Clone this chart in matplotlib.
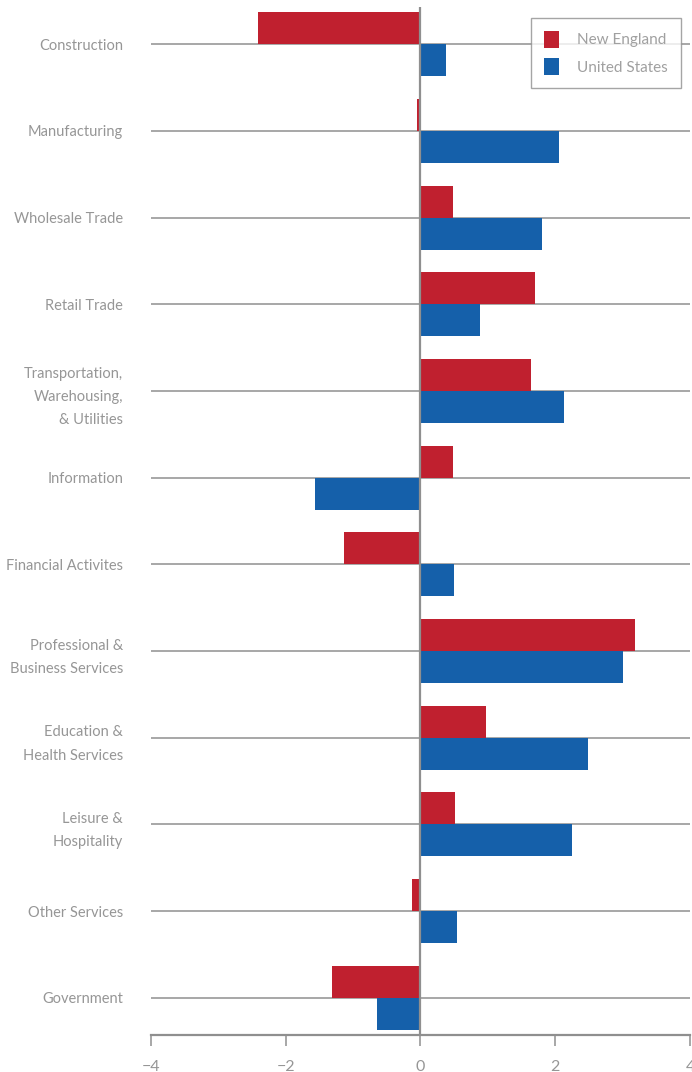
import numpy as np
import matplotlib.pyplot as plt

# Data
categories = ['Construction', 'Manufacturing', 'Wholesale Trade', 'Retail Trade',
              'Transportation,\nWarehousing,\n& Utilities', 'Information',
              'Financial Activites', 'Professional &\nBusiness Services',
              'Education &\nHealth Services', 'Leisure &\nHospitality',
              'Other Services', 'Government']
new_england = [-2.41, -0.05, 0.48, 1.70, 1.64, 0.48, -1.14, 3.18, 0.97, 0.51, -0.13, -1.31]
united_states = [0.38, 2.05, 1.80, 0.88, 2.13, -1.57, 0.50, 3.00, 2.49, 2.25, 0.54, -0.65]
xticks = [-4, -2, 0, 2, 4]

red = '#C0202F'
blue = '#1560AA'
gray = '#8f8f8f'
text_gray = '#969696'

plt.rcParams['font.family'] = ['Lato', 'DejaVu Sans']

fig = plt.figure(figsize=(6.92, 10.72), dpi=100)
ax = fig.add_axes([0.2182, 0.0345, 0.9971 - 0.2182, 0.9935 - 0.0345])

y = np.arange(len(categories))
h = 0.37
ax.barh(y - h / 2, new_england, height=h, color=red, label='New England', zorder=3)
ax.barh(y + h / 2, united_states, height=h, color=blue, label='United States', zorder=3)

# horizontal rules at each category
for yy in y:
    ax.axhline(yy, color=gray, lw=1.1, zorder=1)
ax.axvline(0, color=gray, lw=1.6, zorder=4)

ax.set_xlim(-4, 4)
ax.set_ylim(len(categories) - 1 + 0.43, -0.43)

ax.set_yticks(y)
ax.set_yticklabels(categories, fontsize=10.5, color=text_gray,
                   linespacing=1.85, ha='right')
ax.tick_params(axis='y', length=0, pad=20)

ax.set_xticks(xticks)
ax.set_xticklabels([f'\u2212{abs(t)}' if t < 0 else str(t) for t in xticks],
                   fontsize=11.5, color=text_gray)
ax.tick_params(axis='x', length=8, width=1.1, color=gray, pad=10, direction='out')

for s in ['top', 'right', 'left']:
    ax.spines[s].set_visible(False)
ax.spines['bottom'].set_color(gray)
ax.spines['bottom'].set_linewidth(1.6)

leg = ax.legend(loc='upper right', bbox_to_anchor=(0.9833, 0.9893), frameon=True,
                fancybox=False, edgecolor=gray, fontsize=11, handlelength=1.0,
                handleheight=1.3, labelspacing=0.7, borderpad=0.85, handletextpad=1.2,
                borderaxespad=0)
leg.get_frame().set_linewidth(1.0)
for t in leg.get_texts():
    t.set_color('#a0a0a0')

fig.savefig('out.png', dpi=100)
